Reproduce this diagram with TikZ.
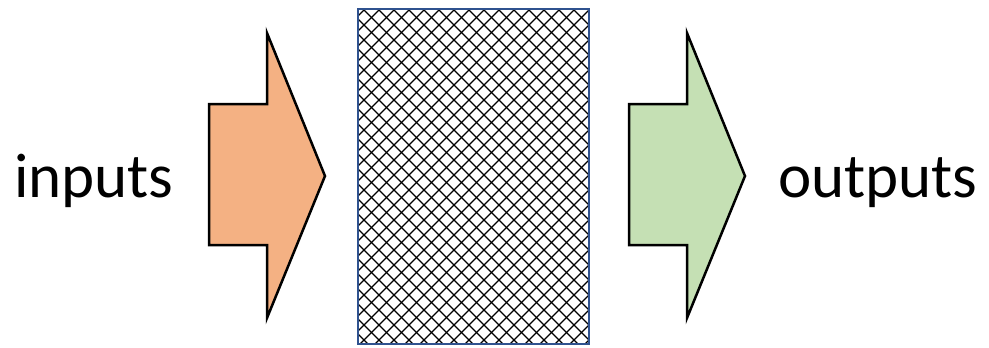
\documentclass[tikz,border=0pt]{standalone}
\usepackage{fontspec}
\setmainfont{Carlito}
\definecolor{inorange}{HTML}{F4B183}
\definecolor{outgreen}{HTML}{C5E0B4}
\definecolor{boxblue}{HTML}{2F528F}
\begin{document}
\begin{tikzpicture}[x=1pt,y=-1pt,
  blockarrow/.style={draw=black,line width=2.5pt,line join=miter},
  hatchline/.style={line width=1.2pt,black},
  lbl/.style={font=\fontsize{63}{70}\selectfont,inner sep=0pt,anchor=base west}]
\useasboundingbox (0,0) rectangle (989,348);
% input arrow
\draw[blockarrow,fill=inorange] (209,104) -- (267,104) -- (267,33) -- (325,176) -- (267,318) -- (267,245) -- (209,245) -- cycle;
% output arrow
\draw[blockarrow,fill=outgreen] (629,104) -- (687,104) -- (687,33) -- (745,176) -- (687,318) -- (687,245) -- (629,245) -- cycle;
% hatched box
\coordinate (bA) at (357,8);
\coordinate (bB) at (588,343);
\begin{scope}
\clip (bA) rectangle (bB);
\fill[white] (bA) rectangle (bB);
\foreach \c in {344,359,...,1000}{
  \draw[hatchline] (\c,0) -- ++(-350,350);
}
\foreach \c in {9,24,...,640}{
  \draw[hatchline] (\c,0) -- ++(350,350);
}
\end{scope}
\node[draw=boxblue,line width=2.2pt,inner sep=0pt,minimum width=231pt,minimum height=335pt,anchor=north west] (box) at (bA) {};
% labels
\node[lbl] (inputs) at (14,197) {inputs};
\node[lbl] (outputs) at (778,197) {outputs};
\end{tikzpicture}
\end{document}
